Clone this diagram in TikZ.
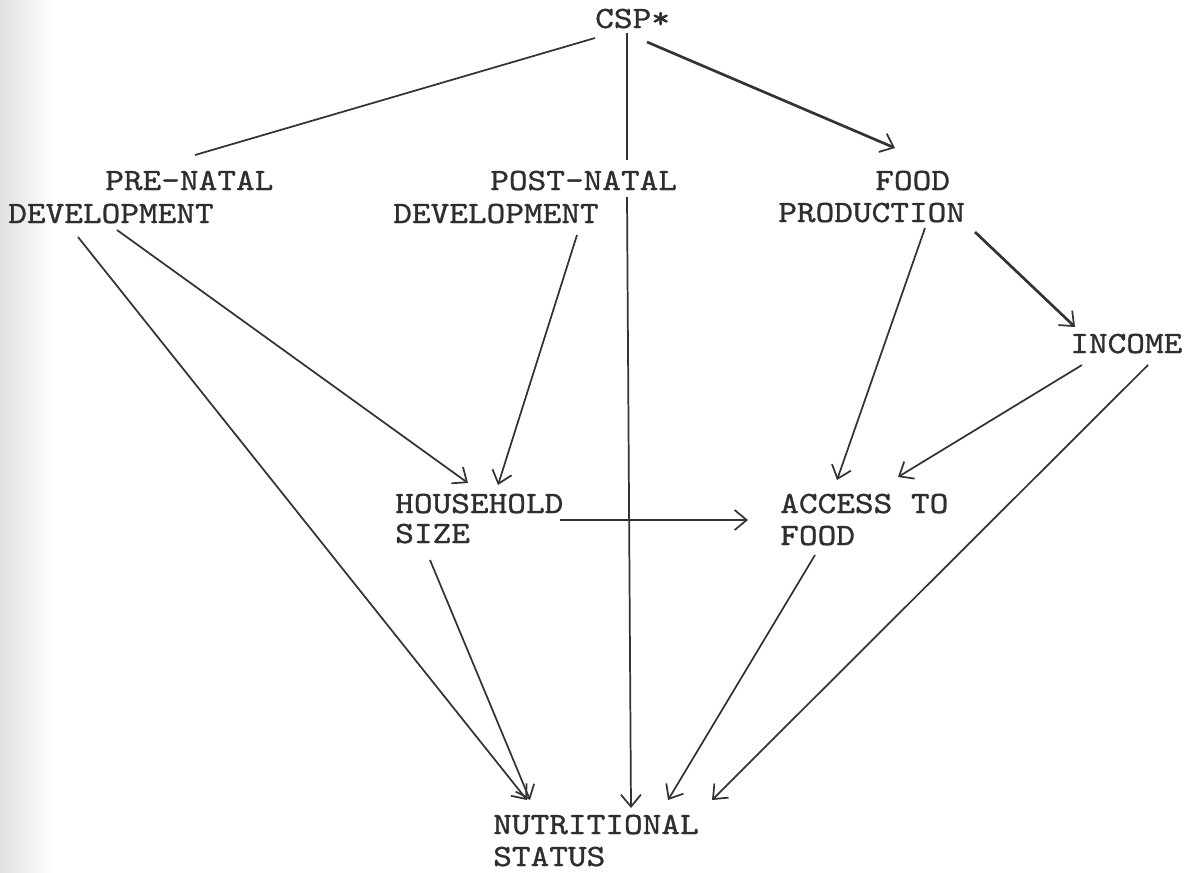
\documentclass[tikz,border=0pt]{standalone}
\usepackage{fontspec}
\newfontfamily\tw{lmmono10-regular.otf}[FakeStretch=1.15,FakeBold=1]
\usetikzlibrary{arrows.meta,calc}
\begin{document}
\begin{tikzpicture}[x=0.75pt,y=-0.75pt,
 lbl/.style={font=\tw\fontsize{23.2}{33}\selectfont, inner sep=0pt, anchor=base west, text=black!82},
 conn/.style={line width=1.3pt, draw=black!80},
 heavy/.style={conn, line width=2pt},
 tip/.style={-{Straight Barb[length=9pt,width=15pt,line width=1.3pt]}}]
\useasboundingbox[fill=white] (0,0) rectangle (1194,872);
\shade[left color=black!12, right color=white] (0,0) rectangle (55,872);
% nodes
\node[lbl] (csp)    at (595,28)  {CSP*};
\node[lbl] (preA)   at (105,190) {PRE-NATAL};
\node[lbl] (preB)   at (8,223)   {DEVELOPMENT};
\node[lbl] (postA)  at (490,190) {POST-NATAL};
\node[lbl] (postB)  at (393,223) {DEVELOPMENT};
\node[lbl] (foodA)  at (875,190) {FOOD};
\node[lbl] (prodB)  at (778,222) {PRODUCTION};
\node[lbl] (income) at (1070,353) {INCOME};
\node[lbl] (houseA) at (395,513) {HOUSEHOLD};
\node[lbl] (houseB) at (395,543) {SIZE};
\node[lbl] (accA)   at (780,513) {ACCESS TO};
\node[lbl] (accB)   at (780,545) {FOOD};
\node[lbl] (nutA)   at (493,834) {NUTRITIONAL};
\node[lbl] (nutB)   at (493,866) {STATUS};
% connectors
\draw[conn] ($(csp.base west)+(0,10)$) -- ($(preA.base west)+(90,-35)$);
\draw[conn] ($(csp.base west)+(32,5)$) -- ($(postA.base west)+(137,-30)$);
\draw[heavy,tip] ($(csp.base west)+(52,14)$) -- ($(foodA.base west)+(20,-42)$);
\draw[conn,tip] ($(postB.base west)+(234,-26)$) -- ($(nutA.base west)+(138,-26)$);
\draw[conn,tip] ($(preB.base west)+(70,14)$) -- ($(nutA.base west)+(34,-34)$);
\draw[conn,tip] ($(preB.base west)+(109,7)$) -- ($(houseA.base west)+(73,-30)$);
\draw[conn,tip] ($(postB.base west)+(184,12)$) -- ($(houseA.base west)+(103,-28)$);
\draw[conn,tip] ($(prodB.base west)+(147,6)$) -- ($(accA.base west)+(57,-33)$);
\draw[heavy,tip] ($(prodB.base west)+(197,10)$) -- ($(income.base west)+(5,-26)$);
\draw[conn,tip] ($(income.base west)+(12,12)$) -- ($(accA.base west)+(118,-36)$);
\draw[conn,tip] ($(income.base west)+(78,12)$) -- ($(nutA.base west)+(219,-34)$);
\draw[heavy,tip] ($(houseA.base west)+(165,7)$) -- ($(accA.base west)+(-32,7)$);
\draw[conn,tip] ($(houseB.base west)+(35,17)$) -- ($(nutA.base west)+(37,-34)$);
\draw[conn,tip] ($(accB.base west)+(35,10)$) -- ($(nutA.base west)+(175,-34)$);
\end{tikzpicture}
\end{document}
